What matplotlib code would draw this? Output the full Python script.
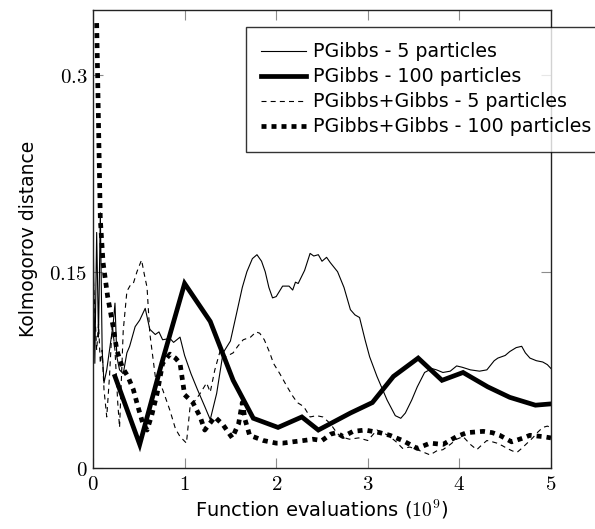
import matplotlib
matplotlib.use('Agg')
import matplotlib.pyplot as plt

plt.rcParams['mathtext.fontset'] = 'cm'
plt.rcParams['font.family'] = ['DejaVu Sans']
plt.rcParams['lines.scale_dashes'] = False

# PGibbs - 5 particles
pg5_x = [0.00, 0.02, 0.04, 0.06, 0.08, 0.10, 0.12, 0.15, 0.19, 0.22, 0.24, 0.26, 0.29, 0.33,
         0.37, 0.40, 0.46, 0.51, 0.57, 0.62, 0.68, 0.72, 0.76, 0.84, 0.88, 0.95, 1.00, 1.07,
         1.14, 1.22, 1.28, 1.35, 1.42, 1.50, 1.57, 1.63, 1.68, 1.74, 1.79, 1.84, 1.88, 1.92,
         1.96, 2.00, 2.07, 2.14, 2.18, 2.21, 2.24, 2.31, 2.37, 2.41, 2.46, 2.50, 2.55, 2.59,
         2.67, 2.74, 2.81, 2.86, 2.91, 2.97, 3.02, 3.10, 3.21, 3.30, 3.36, 3.41, 3.48, 3.54,
         3.62, 3.70, 3.75, 3.82, 3.90, 3.97, 4.03, 4.12, 4.22, 4.30, 4.38, 4.42, 4.50, 4.55,
         4.62, 4.68, 4.72, 4.77, 4.84, 4.91, 4.96, 5.00]
pg5_y = [0.190, 0.080, 0.180, 0.100, 0.195, 0.090, 0.065, 0.075, 0.095, 0.110, 0.126, 0.085,
         0.075, 0.072, 0.088, 0.093, 0.108, 0.113, 0.122, 0.106, 0.102, 0.104, 0.098, 0.099,
         0.096, 0.100, 0.086, 0.072, 0.060, 0.047, 0.037, 0.057, 0.088, 0.097, 0.119, 0.138,
         0.150, 0.160, 0.163, 0.158, 0.150, 0.138, 0.130, 0.131, 0.139, 0.139, 0.136, 0.142,
         0.141, 0.151, 0.164, 0.162, 0.163, 0.158, 0.161, 0.157, 0.150, 0.138, 0.121, 0.117,
         0.115, 0.098, 0.085, 0.070, 0.052, 0.040, 0.038, 0.042, 0.052, 0.062, 0.073, 0.076,
         0.075, 0.073, 0.074, 0.078, 0.077, 0.075, 0.074, 0.075, 0.082, 0.084, 0.086, 0.089,
         0.092, 0.093, 0.088, 0.084, 0.082, 0.081, 0.079, 0.076]

# PGibbs - 100 particles
pg100_x = [0.24, 0.51, 0.75, 1.00, 1.28, 1.53, 1.75, 2.02, 2.28, 2.46, 2.81, 3.05, 3.28,
           3.55, 3.81, 4.04, 4.31, 4.55, 4.83, 5.00]
pg100_y = [0.070, 0.018, 0.080, 0.141, 0.112, 0.067, 0.038, 0.031, 0.039, 0.029, 0.042,
           0.050, 0.070, 0.084, 0.067, 0.073, 0.062, 0.054, 0.048, 0.049]

# PGibbs+Gibbs - 5 particles
pgg5_x = [0.00, 0.02, 0.04, 0.06, 0.08, 0.10, 0.12, 0.15, 0.18, 0.21, 0.24, 0.27, 0.29,
          0.33, 0.37, 0.41, 0.44, 0.48, 0.53, 0.56, 0.59, 0.62, 0.68, 0.72, 0.76, 0.80,
          0.84, 0.90, 0.95, 1.02, 1.06, 1.12, 1.17, 1.24, 1.28, 1.33, 1.39, 1.45, 1.53,
          1.58, 1.64, 1.72, 1.78, 1.82, 1.87, 1.93, 1.97, 2.04, 2.12, 2.18, 2.23, 2.30,
          2.37, 2.44, 2.51, 2.59, 2.65, 2.70, 2.80, 2.90, 3.00, 3.10, 3.17, 3.24, 3.31,
          3.38, 3.46, 3.54, 3.61, 3.68, 3.75, 3.82, 3.90, 3.97, 4.04, 4.12, 4.19, 4.25,
          4.30, 4.36, 4.41, 4.47, 4.52, 4.58, 4.63, 4.68, 4.74, 4.80, 4.85, 4.91, 4.96, 5.00]
pgg5_y = [0.150, 0.120, 0.090, 0.110, 0.080, 0.090, 0.060, 0.039, 0.070, 0.110, 0.090,
          0.050, 0.031, 0.105, 0.135, 0.140, 0.141, 0.150, 0.159, 0.148, 0.138, 0.103,
          0.070, 0.065, 0.060, 0.052, 0.044, 0.030, 0.024, 0.019, 0.047, 0.052, 0.057,
          0.065, 0.058, 0.075, 0.090, 0.085, 0.088, 0.093, 0.098, 0.100, 0.104, 0.103,
          0.098, 0.088, 0.080, 0.072, 0.062, 0.055, 0.050, 0.047, 0.039, 0.040, 0.039,
          0.034, 0.028, 0.024, 0.022, 0.023, 0.021, 0.029, 0.027, 0.024, 0.020, 0.015,
          0.016, 0.014, 0.012, 0.010, 0.013, 0.014, 0.018, 0.022, 0.024, 0.018, 0.014,
          0.018, 0.021, 0.020, 0.019, 0.017, 0.015, 0.013, 0.012, 0.015, 0.019, 0.023,
          0.027, 0.031, 0.032, 0.031]

# PGibbs+Gibbs - 100 particles
pgg100_x = [0.04, 0.065, 0.08, 0.11, 0.16, 0.22, 0.26, 0.32, 0.38, 0.44, 0.49, 0.54, 0.59,
            0.64, 0.70, 0.76, 0.84, 0.90, 0.95, 1.00, 1.09, 1.17, 1.22, 1.33, 1.42, 1.52,
            1.59, 1.63, 1.66, 1.71, 1.86, 2.00, 2.07, 2.18, 2.30, 2.40, 2.50, 2.60, 2.66,
            2.73, 2.84, 2.97, 3.05, 3.13, 3.24, 3.38, 3.46, 3.54, 3.68, 3.82, 3.97, 4.08,
            4.26, 4.36, 4.44, 4.57, 4.70, 4.77, 4.91, 5.00]
pgg100_y = [0.340, 0.245, 0.190, 0.157, 0.131, 0.108, 0.090, 0.077, 0.070, 0.060, 0.047,
            0.035, 0.029, 0.040, 0.057, 0.080, 0.087, 0.084, 0.080, 0.056, 0.050, 0.039,
            0.029, 0.039, 0.033, 0.023, 0.034, 0.050, 0.037, 0.025, 0.021, 0.019, 0.019,
            0.020, 0.021, 0.022, 0.021, 0.026, 0.027, 0.024, 0.028, 0.029, 0.028, 0.027,
            0.025, 0.021, 0.018, 0.015, 0.019, 0.018, 0.024, 0.027, 0.028, 0.027, 0.025,
            0.020, 0.023, 0.025, 0.024, 0.023]

fig = plt.figure(figsize=(5.95, 5.29), dpi=100)
ax = fig.add_axes([93/595, 1-468/529, 458/595, 458/529])

ax.plot(pg5_x, pg5_y, color='black', lw=0.8, label='PGibbs - 5 particles')
ax.plot(pg100_x, pg100_y, color='black', lw=3.4, solid_joinstyle='miter',
        label='PGibbs - 100 particles')
ax.plot(pgg5_x, pgg5_y, color='black', lw=0.8, dashes=(3.6, 3.0),
        label='PGibbs+Gibbs - 5 particles')
ax.plot(pgg100_x, pgg100_y, color='black', lw=3.4, dashes=(3.6, 3.6),
        dash_capstyle='butt', label='PGibbs+Gibbs - 100 particles')

ax.set_xlim(0, 5)
ax.set_ylim(0, 0.35)
ax.set_xticks([0, 1, 2, 3, 4, 5])
ax.set_xticklabels(['$0$', '$1$', '$2$', '$3$', '$4$', '$5$'])
ax.set_yticks([0, 0.15, 0.3])
ax.set_yticklabels(['$0$', '$0.15$', '$0.3$'])
ax.tick_params(direction='in', length=7, width=0.8, color='#8c8c8c',
               top=True, right=True, labelsize=15, pad=4)
for s in ax.spines.values():
    s.set_linewidth(1.0)
    s.set_color('#222222')

ax.set_xlabel('Function evaluations ($10^9$)', fontsize=14, labelpad=3)
ax.set_ylabel('Kolmogorov distance', fontsize=13.5, labelpad=8)

leg = ax.legend(loc='upper left', bbox_to_anchor=(246/595, 1-27/529),
                bbox_transform=fig.transFigure, fontsize=13.7, frameon=True,
                fancybox=False, edgecolor='black', handlelength=2.35,
                handletextpad=0.35, labelspacing=0.32, borderpad=0.8,
                borderaxespad=0)
leg.get_frame().set_linewidth(1.0)

fig.savefig('out.png', dpi=100)
